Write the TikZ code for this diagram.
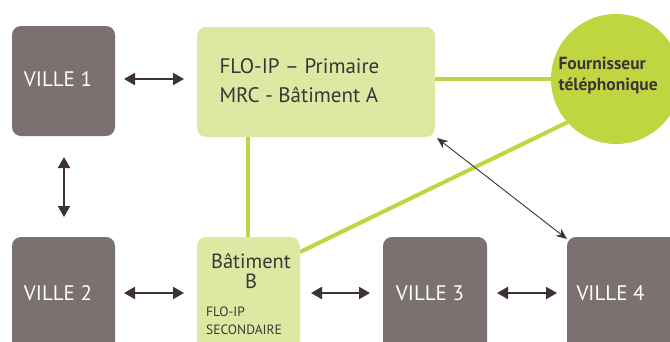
\documentclass[tikz,border=0pt]{standalone}
\usepackage{fontspec}
\setmainfont{PT Sans}
\usetikzlibrary{arrows.meta,shapes.geometric}
\definecolor{villegrey}{HTML}{7A7170}
\definecolor{lightgreen}{HTML}{DDE9A3}
\definecolor{limegreen}{HTML}{BFD641}
\definecolor{darktext}{HTML}{3D3535}
\definecolor{arrowdark}{HTML}{3E3232}
\tikzset{
  ville/.style={fill=villegrey, rounded corners=9pt},
  villetext/.style={text=white, font=\fontsize{21}{24}\selectfont},
  greenbox/.style={fill=lightgreen, rounded corners=9pt},
  link/.style={draw=limegreen, line width=4pt},
  bidir/.style={draw=arrowdark, line width=2pt, {Triangle[length=11pt,width=12pt]}-{Triangle[length=11pt,width=12pt]}},
  thinbidir/.style={draw=arrowdark, line width=0.9pt, {Stealth[length=11pt,width=9pt]}-{Stealth[length=11pt,width=9pt]}},
}
\begin{document}
\begin{tikzpicture}[x=1pt,y=-1pt]
\useasboundingbox (0,0) rectangle (670,341);
\fill[white] (0,0) rectangle (670,341);
\begin{scope}
\clip (0,0) rectangle (670,341);
% green links (behind boxes)
\coordinate (flovert) at (248,137);
\coordinate (batvert) at (248,237);
\draw[link] (flovert) -- (batvert);
\coordinate (batdiag) at (300,252);
\coordinate (fourndiag) at (568,122);
\draw[link] (batdiag) -- (fourndiag);
\coordinate (flohor) at (435,79);
\coordinate (fournhor) at (560,79);
\draw[link] (flohor) -- (fournhor);
% boxes
\path[ville] (12,26) rectangle (115,136);
\node[villetext] (v1) at (58,79) {VILLE 1};
\path[ville] (12,237) rectangle (115,361);
\node[villetext] (v2) at (58,293) {VILLE 2};
\path[ville] (383,237) rectangle (487,361);
\node[villetext] (v3) at (430,293) {VILLE 3};
\path[ville] (567,237) rectangle (690,361);
\node[villetext, anchor=west] (v4) at (573,293) {VILLE 4};
\path[greenbox] (197,27) rectangle (435,137);
\node[text=darktext, font=\fontsize{21}{29}\selectfont, anchor=west, align=left] (flo) at (216,81) {FLO-IP -- Primaire\\MRC - Bâtiment A};
\path[greenbox] (197,237) rectangle (300,361);
\node[text=darktext, font=\fontsize{20.5}{20}\selectfont, align=center, inner sep=1pt] (batb) at (251,271) {Bâtiment\\B};
\node[text=darktext, font=\fontsize{13.5}{18}\selectfont, anchor=west, align=left, inner sep=1pt] (batsub) at (205,321) {FLO-IP\\SECONDAIRE};
\node[circle, fill=limegreen, minimum size=130pt, inner sep=0pt] (fourn) at (616,79) {};
\node[text=darktext, font=\bfseries\fontsize{17.5}{21}\selectfont, anchor=west, align=left] (fourntext) at (555,76) {Fournisseur\\téléphonique};
% arrows
\coordinate (a1l) at (124,79); \coordinate (a1r) at (184,79);
\draw[bidir] (a1l) -- (a1r);
\coordinate (a2t) at (64,157); \coordinate (a2b) at (64,217);
\draw[bidir] (a2t) -- (a2b);
\coordinate (a3l) at (124,293); \coordinate (a3r) at (184,293);
\draw[bidir] (a3l) -- (a3r);
\coordinate (a4l) at (311,293); \coordinate (a4r) at (370,293);
\draw[bidir] (a4l) -- (a4r);
\coordinate (a5l) at (497,293); \coordinate (a5r) at (557,293);
\draw[bidir] (a5l) -- (a5r);
\coordinate (dtl) at (437,138); \coordinate (dbr) at (567,239);
\draw[thinbidir] (dtl) -- (dbr);
\end{scope}
\end{tikzpicture}
\end{document}
